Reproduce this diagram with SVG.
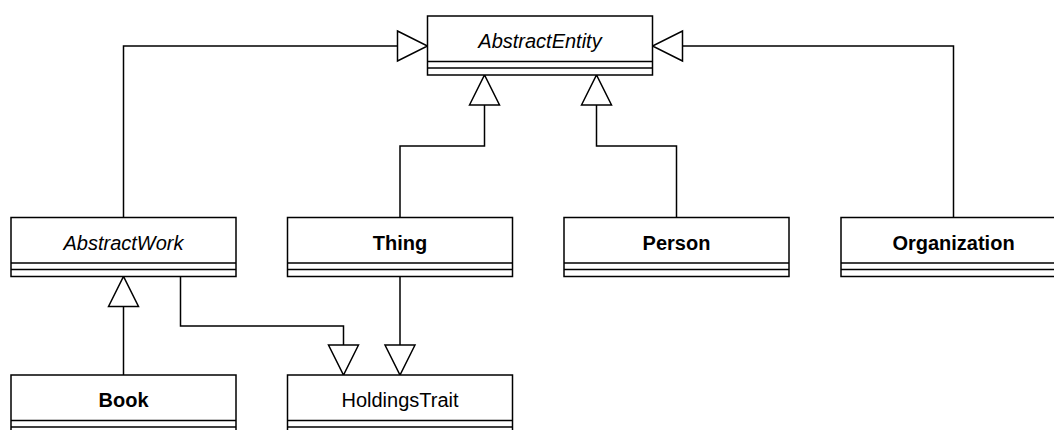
<svg xmlns="http://www.w3.org/2000/svg" width="1054" height="430" viewBox="0 0 1054 430">
<style>
  .box { fill: #ffffff; stroke: #000000; stroke-width: 1.5; }
  .sep { stroke: #000000; stroke-width: 1.5; fill: none; }
  .lbl { font-family: "Liberation Sans", Arial, Helvetica, sans-serif; font-size: 20px; fill: #000000; text-anchor: middle; }
  .it { font-style: italic; }
  .b { font-weight: bold; }
  .edge { fill: none; stroke: #000000; stroke-width: 1.5; marker-end: url(#gen); }
</style>
<defs>
  <marker id="gen" markerUnits="userSpaceOnUse" viewBox="0 0 30 30" markerWidth="30" markerHeight="30" refX="30" refY="15" orient="auto" overflow="visible">
    <path d="M0,0 L30,15 L0,30 Z" fill="#ffffff" stroke="#000000" stroke-width="1.5"/>
  </marker>
</defs>
<rect width="1054" height="430" fill="#ffffff"/>
<g id="connectors">
  <path class="edge" d="M123.5,217.5 V46 H427.5"/>
  <path class="edge" d="M953.5,217.5 V46 H652.5"/>
  <path class="edge" d="M400,217.5 V146 H484.5 V75"/>
  <path class="edge" d="M676.5,217.5 V146 H596.5 V75"/>
  <path class="edge" d="M123.5,375 V276.5"/>
  <path class="edge" d="M180.5,276.5 V326 H343.5 V375"/>
  <path class="edge" d="M400,276.5 V375"/>
</g>
<g id="AbstractEntity">
  <rect class="box" x="427.5" y="16" width="225" height="59"/>
  <path class="sep" d="M427.5,61.5 H652.5 M427.5,68 H652.5"/>
  <text class="lbl it" x="540" y="48">AbstractEntity</text>
</g>
<g id="AbstractWork">
  <rect class="box" x="11" y="217.5" width="225" height="59"/>
  <path class="sep" d="M11,263 H236 M11,269.5 H236"/>
  <text class="lbl it" x="123.5" y="249.5">AbstractWork</text>
</g>
<g id="Thing">
  <rect class="box" x="287.5" y="217.5" width="225" height="59"/>
  <path class="sep" d="M287.5,263 H512.5 M287.5,269.5 H512.5"/>
  <text class="lbl b" x="400" y="249.5">Thing</text>
</g>
<g id="Person">
  <rect class="box" x="564" y="217.5" width="225" height="59"/>
  <path class="sep" d="M564,263 H789 M564,269.5 H789"/>
  <text class="lbl b" x="676.5" y="249.5">Person</text>
</g>
<g id="Organization">
  <rect class="box" x="841" y="217.5" width="225" height="59"/>
  <path class="sep" d="M841,263 H1066 M841,269.5 H1066"/>
  <text class="lbl b" x="953.5" y="249.5">Organization</text>
</g>
<g id="Book">
  <rect class="box" x="11" y="375" width="225" height="59"/>
  <path class="sep" d="M11,420.5 H236 M11,427 H236"/>
  <text class="lbl b" x="123.5" y="406.5">Book</text>
</g>
<g id="HoldingsTrait">
  <rect class="box" x="287.5" y="375" width="225" height="59"/>
  <path class="sep" d="M287.5,420.5 H512.5 M287.5,427 H512.5"/>
  <text class="lbl" x="400" y="406.5">HoldingsTrait</text>
</g>
</svg>
